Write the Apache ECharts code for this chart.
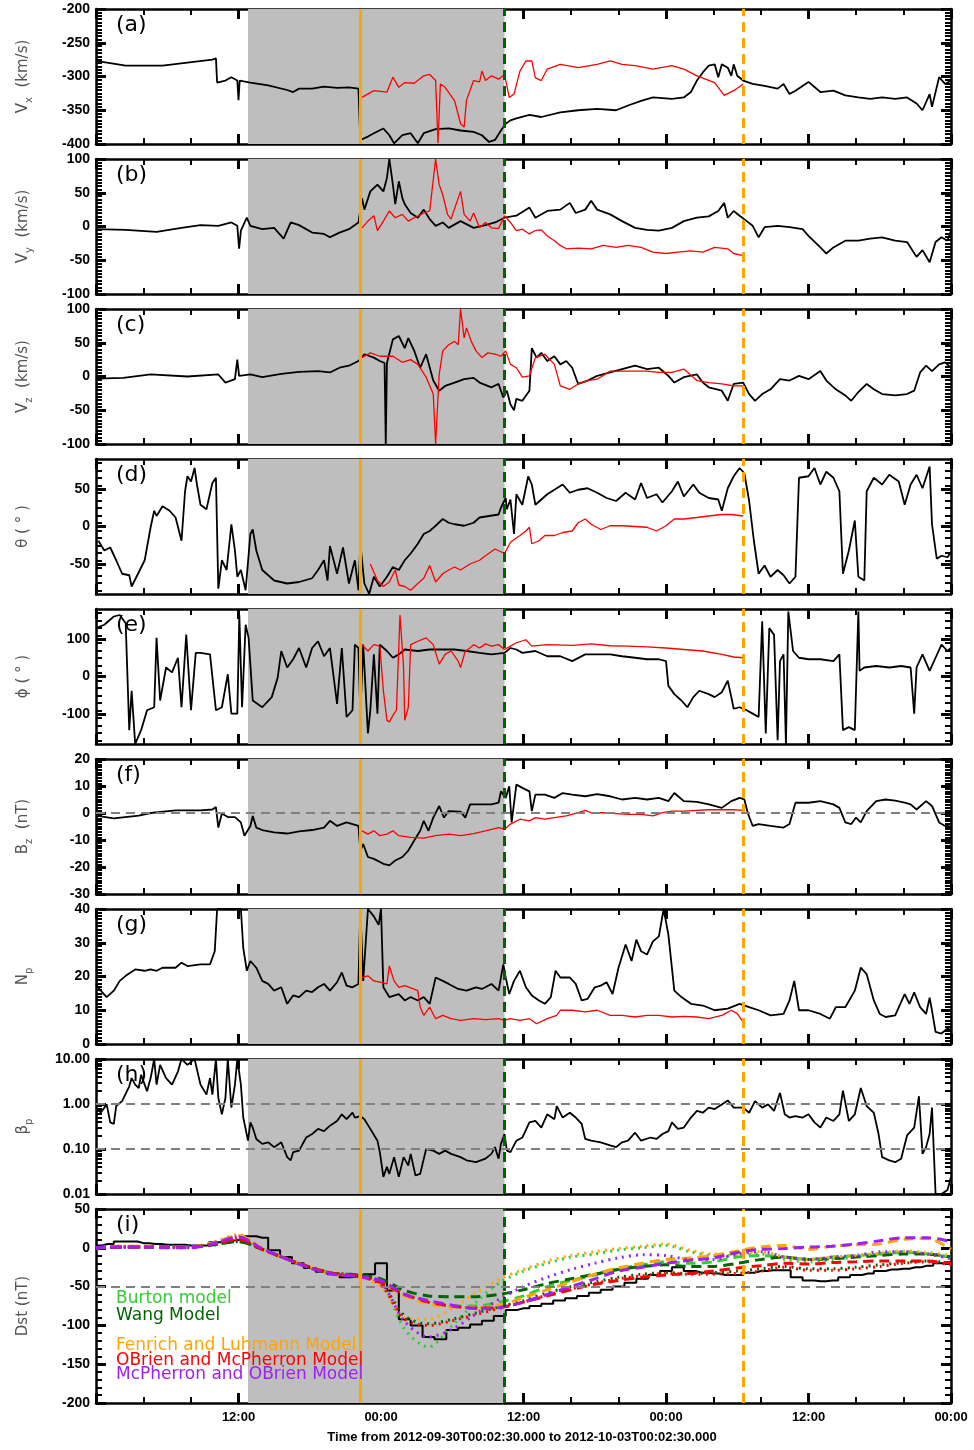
<!DOCTYPE html>
<html>
<head>
<meta charset="utf-8">
<script src="https://cdn.jsdelivr.net/npm/echarts@6.0.0/dist/echarts.min.js"></script>
<style>
html, body { margin: 0; padding: 0; background: #fff; }
#chart { width: 974px; height: 1450px; }
</style>
</head>
<body>
<div id="chart"></div>
<script>
// time is in hours from 2012-09-30 00:00
const shadeSpan = [12.8, 34.4];
const tShock = 22.26;
const tEnd = 34.4;
const tArrival = 54.5;

// (a) Vx
const vxObs = [[0,-279],[0.4,-278],[2.5,-284],[5.6,-284],[9.8,-275],[10.1,-273],[10.2,-309],[10.9,-306],[11.4,-301],[11.9,-306],[12.0,-335],[12.1,-306],[13.0,-309],[14.5,-313],[16.1,-320],[16.6,-323],[17.1,-318],[18.2,-318],[19.2,-315],[20.3,-317],[21.3,-316],[22.1,-318],[22.26,-394],[22.9,-389],[23.4,-384],[24.2,-377],[24.7,-387],[25.1,-399],[25.8,-387],[26.5,-384],[27.1,-399],[27.6,-384],[28.6,-378],[29.7,-377],[30.7,-380],[31.8,-382],[32.5,-387],[33.1,-397],[33.6,-394],[34.1,-380],[34.5,-370],[34.9,-365],[35.4,-362],[36.5,-357],[37.5,-360],[39.1,-353],[40.6,-350],[42.2,-348],[43.8,-350],[44.8,-343],[45.9,-336],[46.9,-331],[48.5,-333],[49.5,-331],[50.1,-323],[50.6,-306],[51.1,-294],[51.6,-284],[52.1,-282],[52.4,-301],[52.7,-282],[53.2,-287],[53.5,-299],[53.7,-282],[54.0,-299],[54.5,-306],[55.3,-311],[56.3,-314],[57.4,-318],[57.9,-311],[58.4,-326],[58.9,-321],[60.0,-308],[61.0,-323],[62.1,-321],[63.1,-328],[64.2,-331],[65.2,-333],[66.2,-331],[67.3,-333],[68.3,-331],[69.1,-340],[69.6,-350],[70.2,-326],[70.4,-345],[71.0,-301],[71.5,-311],[72,-306]];
const vxModel = [[22.4,-331],[23.4,-321],[24.5,-323],[25.0,-301],[25.5,-316],[26.0,-309],[26.8,-310],[27.6,-299],[28.1,-297],[28.6,-306],[28.8,-399],[29.0,-311],[29.4,-316],[30.2,-336],[30.7,-370],[31.0,-375],[31.2,-335],[31.8,-306],[32.3,-308],[32.5,-292],[32.8,-306],[33.3,-299],[33.9,-304],[34.4,-297],[34.8,-331],[35.2,-326],[35.7,-292],[36.2,-277],[36.7,-277],[37.0,-302],[37.5,-306],[38.0,-289],[39.1,-282],[40.6,-287],[42.2,-282],[43.3,-277],[44.3,-282],[45.4,-284],[46.9,-289],[48.5,-284],[49.5,-289],[50.6,-299],[52.1,-309],[52.9,-328],[53.7,-321],[54.5,-311]];

// (b) Vy
const vyObs = [[0,-4],[2.5,-5],[5.1,-8],[7.2,-2],[8.8,2],[10.3,1],[11.4,6],[11.9,1],[12.05,-33],[12.2,-6],[12.7,13],[13.0,1],[14.0,-4],[15.0,-2],[15.8,-18],[16.4,6],[17.1,2],[18.2,-9],[19.2,-11],[19.7,-16],[20.5,-9],[21.3,-4],[22.1,6],[22.4,42],[22.6,25],[23.1,52],[23.7,62],[24.2,52],[24.5,72],[24.7,100],[25.0,62],[25.2,33],[25.5,67],[25.8,42],[26.0,33],[26.5,20],[27.1,13],[27.6,25],[28.1,11],[28.6,1],[29.2,6],[29.7,-2],[30.7,8],[31.8,-2],[32.8,2],[33.6,6],[34.4,13],[35.4,16],[36.5,28],[37.0,13],[38.0,23],[39.1,25],[39.9,35],[40.4,20],[41.2,25],[41.7,38],[42.2,25],[43.3,18],[44.3,8],[45.4,-2],[46.4,-5],[47.4,-6],[48.5,-2],[49.5,8],[50.6,13],[51.6,15],[52.4,23],[52.9,35],[53.2,13],[53.7,23],[54.2,16],[54.8,8],[55.3,1],[55.8,-16],[56.3,-1],[57.4,1],[58.4,-1],[59.5,-4],[60.0,-14],[61.0,-31],[61.5,-40],[62.1,-31],[63.1,-21],[64.2,-21],[65.2,-18],[66.2,-16],[67.3,-21],[68.3,-23],[69.1,-45],[69.6,-35],[70.2,-53],[70.7,-23],[71.2,-16],[71.7,-21],[72,-6]];
const vyModel = [[22.4,-2],[22.9,8],[23.4,16],[23.7,-6],[24.2,8],[24.7,23],[25.2,13],[25.8,18],[26.3,8],[26.8,13],[27.6,20],[28.1,23],[28.6,100],[28.9,62],[29.2,47],[29.6,18],[29.9,11],[30.5,42],[30.7,52],[31.0,18],[31.5,8],[31.8,20],[32.3,-2],[32.8,6],[33.3,-2],[33.9,-3],[34.4,16],[34.9,6],[35.4,-6],[35.9,-4],[36.5,-11],[37.0,-6],[37.5,-5],[38.0,-14],[38.6,-21],[39.1,-28],[39.6,-33],[40.6,-32],[41.7,-33],[42.7,-28],[43.8,-31],[44.8,-28],[45.9,-31],[46.9,-38],[48.0,-40],[49.0,-38],[50.1,-36],[51.1,-38],[52.1,-31],[53.2,-33],[53.7,-40],[54.5,-43]];

// (c) Vz
const vzObs = [[0,-3],[2.3,-2],[4.6,3],[7.7,0],[10.3,3],[10.9,-9],[11.7,-4],[11.9,25],[12.05,1],[13.0,3],[14.0,-1],[15.6,4],[17.1,7],[18.7,8],[19.7,6],[20.5,13],[21.3,16],[22.1,23],[22.6,33],[23.4,28],[23.9,23],[24.3,20],[24.4,-100],[24.5,20],[25.0,55],[25.5,60],[26.0,42],[26.3,57],[26.8,38],[27.3,13],[27.8,33],[28.4,-6],[28.9,-21],[29.4,-14],[30.2,-9],[31.0,-4],[31.8,-2],[32.3,-9],[33.3,-16],[33.9,-11],[34.3,-31],[34.6,-21],[34.9,-41],[35.2,-50],[35.4,-33],[35.9,-36],[36.5,-21],[36.7,42],[37.1,28],[37.5,35],[38.0,23],[38.6,30],[39.1,18],[39.6,23],[40.1,13],[40.6,-11],[41.4,-6],[42.2,1],[43.3,6],[44.3,11],[45.4,16],[46.4,11],[47.4,13],[48.2,1],[48.7,-9],[49.5,-1],[50.6,3],[51.1,-9],[51.6,-16],[52.7,-21],[53.2,-36],[53.7,-11],[54.5,-9],[55.0,-26],[55.5,-36],[56.1,-26],[56.8,-19],[57.6,-4],[58.4,-6],[59.2,1],[60.0,-4],[61.0,8],[61.5,-6],[62.3,-19],[63.1,-28],[63.6,-36],[64.2,-23],[64.9,-11],[65.5,-19],[66.2,-26],[67.3,-28],[68.3,-26],[68.9,-21],[69.4,6],[69.9,16],[70.4,8],[71.0,18],[71.5,21],[72,13]];
const vzModel = [[22.4,28],[23.1,35],[23.9,30],[25.0,30],[25.8,21],[26.5,25],[27.1,18],[27.8,-1],[28.4,-26],[28.6,-100],[28.9,3],[29.2,38],[29.7,47],[30.2,52],[30.5,47],[30.7,100],[31.0,57],[31.2,72],[31.6,52],[32.0,38],[32.5,28],[33.0,35],[33.6,33],[34.1,30],[34.5,38],[34.9,18],[35.4,13],[35.9,-1],[36.5,1],[37.0,28],[37.8,33],[38.6,18],[39.1,-14],[39.9,-19],[40.6,-11],[41.4,-6],[42.2,-4],[43.3,8],[44.3,8],[45.4,8],[46.4,8],[47.4,6],[48.5,6],[49.5,11],[50.6,-6],[51.6,-9],[52.7,-11],[53.7,-14],[54.5,-14]];

// (d) theta
const thetaObs = [[0.2,-19],[0.7,-32],[1.2,-28],[1.7,-45],[2.2,-63],[2.8,-65],[3.0,-80],[3.6,-61],[4.1,-45],[4.6,-1],[4.9,21],[5.1,14],[5.6,27],[6.2,21],[6.7,12],[7.2,-19],[7.5,47],[7.7,67],[8.0,60],[8.3,78],[8.5,56],[8.8,29],[9.3,23],[9.8,58],[10.1,65],[10.3,-83],[10.6,-45],[11.0,-58],[11.4,3],[11.7,-32],[11.9,-67],[12.2,-58],[12.6,-85],[13.0,-10],[13.2,-4],[13.5,-32],[14.0,-58],[14.5,-65],[15.0,-72],[16.1,-76],[17.1,-74],[18.2,-69],[18.7,-58],[19.2,-45],[19.5,-72],[19.7,-26],[20.3,-63],[20.8,-28],[21.3,-76],[21.8,-45],[22.1,-85],[22.26,-23],[22.6,-76],[23.0,-90],[23.4,-67],[23.9,-80],[24.5,-67],[25.0,-54],[25.5,-58],[26.0,-45],[26.5,-36],[27.1,-23],[27.6,-10],[28.1,-6],[28.6,1],[29.2,10],[29.7,5],[30.2,3],[31.0,1],[31.8,5],[32.3,12],[33.1,14],[33.9,16],[34.1,25],[34.5,38],[34.6,23],[34.9,36],[35.2,-10],[35.4,43],[35.9,29],[36.4,67],[36.7,56],[37.0,29],[37.5,36],[38.0,43],[38.8,51],[39.3,56],[39.9,45],[40.6,49],[41.4,51],[42.2,45],[43.0,38],[43.8,34],[44.6,45],[45.4,36],[45.9,58],[46.4,38],[47.2,43],[47.7,32],[48.5,47],[49.0,60],[49.5,40],[50.3,56],[50.8,45],[51.6,38],[52.4,36],[52.7,21],[53.2,51],[53.7,67],[54.2,78],[54.6,71],[55.0,34],[55.4,-19],[55.8,-63],[56.3,-52],[56.8,-67],[57.4,-58],[57.9,-65],[58.4,-76],[58.9,-67],[59.2,65],[60.0,67],[60.5,78],[61.0,56],[61.5,73],[62.1,65],[62.6,47],[62.9,-63],[63.4,-32],[63.9,8],[64.2,-67],[64.7,-72],[64.9,47],[65.5,65],[66.2,56],[66.8,69],[67.6,60],[68.1,29],[68.6,56],[69.1,69],[69.6,51],[70.2,80],[70.4,3],[70.8,-43],[71.2,-39],[71.7,-41],[72,-34]];
const thetaModel = [[23.1,-50],[23.7,-72],[24.2,-80],[24.7,-74],[25.2,-58],[25.5,-78],[26.0,-80],[26.5,-85],[27.1,-76],[27.6,-69],[28.1,-52],[28.6,-74],[29.2,-63],[29.7,-58],[30.2,-54],[30.7,-58],[31.5,-50],[32.3,-45],[32.8,-39],[33.6,-30],[34.4,-36],[34.9,-21],[35.7,-12],[36.2,-6],[36.5,-1],[36.7,-23],[37.3,-19],[37.8,-12],[38.6,-12],[39.3,-8],[40.1,-6],[40.6,5],[41.2,10],[41.7,3],[42.5,-4],[43.3,1],[44.3,1],[45.4,0],[46.4,-1],[47.2,-6],[48.0,1],[48.7,10],[49.5,10],[50.6,12],[51.6,14],[52.7,16],[53.5,16],[54.5,14]];

// (e) phi
const phiObs = [[0,129],[0.7,138],[1.5,160],[2.0,164],[2.5,142],[2.8,-143],[3.0,-38],[3.3,-180],[3.8,-143],[4.3,-90],[4.9,-82],[5.1,103],[5.4,-64],[5.9,24],[6.4,11],[6.9,50],[7.2,-82],[7.6,112],[8.0,-90],[8.4,63],[8.8,63],[9.6,59],[10.1,-90],[10.6,-82],[11.1,6],[11.4,-99],[11.9,-99],[12.07,164],[12.3,-82],[12.6,138],[12.85,103],[13.2,-64],[14.0,-82],[14.8,-55],[15.3,-3],[15.6,68],[16.1,24],[16.6,46],[17.1,76],[17.7,24],[18.2,76],[18.7,94],[19.2,54],[19.7,76],[20.3,-73],[20.7,76],[21.1,-108],[21.6,-90],[21.8,85],[22.1,76],[22.26,-99],[22.5,85],[22.9,-152],[23.1,-90],[23.4,59],[23.7,-99],[23.9,85],[24.5,68],[25.0,50],[25.5,59],[26.0,72],[27.1,68],[28.1,72],[29.2,72],[30.2,72],[31.2,68],[32.3,63],[33.3,59],[34.4,63],[34.9,76],[35.4,72],[35.9,63],[37.0,68],[38.0,54],[39.1,54],[40.1,41],[41.2,59],[42.2,59],[43.3,59],[44.3,54],[45.4,50],[46.4,46],[47.4,46],[48.0,41],[48.2,-25],[48.7,-47],[49.3,-64],[49.8,-82],[50.3,-55],[50.8,-38],[51.6,-47],[52.1,-55],[52.7,-42],[53.2,-11],[53.5,-55],[53.7,-86],[54.2,-82],[54.8,-90],[55.3,-99],[55.8,-108],[56.1,147],[56.4,-152],[56.7,129],[57.1,111],[57.4,-170],[57.6,41],[57.9,59],[58.1,-180],[58.3,173],[58.7,68],[59.2,50],[60.0,46],[61.0,46],[62.1,41],[62.6,59],[62.9,-143],[63.4,-135],[63.9,-143],[64.2,173],[64.3,15],[64.7,24],[65.7,28],[66.8,24],[67.8,28],[68.6,24],[68.9,-99],[69.1,24],[69.6,59],[70.2,15],[70.7,50],[71.2,85],[71.7,68],[72,76]];
const phiModel = [[22.4,85],[22.9,68],[23.4,85],[23.9,81],[24.2,-38],[24.5,-117],[24.7,-121],[25.1,-99],[25.3,-90],[25.6,164],[25.9,24],[26.0,-117],[26.3,-82],[26.5,85],[27.1,94],[27.8,103],[28.4,85],[28.9,33],[29.4,59],[29.9,68],[30.5,41],[30.7,24],[31.1,68],[31.5,76],[31.8,85],[32.3,76],[32.8,87],[33.3,81],[33.9,85],[34.4,72],[34.9,81],[35.4,90],[36.2,98],[36.7,81],[38.0,85],[40.1,83],[41.7,87],[43.3,82],[44.8,81],[46.4,79],[48.0,76],[49.5,72],[51.1,68],[52.7,59],[53.7,52],[54.5,50]];

// (f) Bz
const bzObs = [[0,-1],[1.5,-2],[3.6,-1],[4.6,0],[6.7,1],[8.8,1],[9.8,1.3],[10.1,2.2],[10.3,-5.4],[10.6,-0.2],[11.1,-1.5],[11.7,-1.5],[12.2,-3.5],[12.5,-8.4],[13.0,-4.8],[13.2,-1.1],[13.5,-5.4],[14.0,-6.3],[15.0,-7.2],[16.1,-7.6],[17.1,-6.8],[18.2,-6.3],[19.2,-5.4],[19.7,-2.9],[20.3,-4.8],[21.1,-3.5],[21.6,-4.1],[22.1,-4.8],[22.26,-13.9],[22.5,-11.5],[22.9,-16.3],[23.4,-17],[24.2,-18.8],[24.7,-19.4],[25.2,-17.6],[25.8,-16.3],[26.3,-13.9],[26.8,-10.2],[27.3,-6.6],[27.6,-2.9],[28.0,-6.6],[28.4,-1.7],[28.9,2.6],[29.3,-1.7],[29.7,0.7],[30.7,0.5],[31.1,-1.7],[31.5,3.2],[32.3,3.2],[33.3,3.2],[33.9,3.8],[34.1,8],[34.5,5.6],[34.8,9.9],[35.0,-3.5],[35.4,10.5],[35.9,9.3],[36.5,8],[36.7,0.7],[37.0,6.8],[37.8,6.8],[38.6,5.6],[39.3,7.4],[40.1,6.8],[41.2,6.2],[42.2,7],[43.3,6.2],[44.3,5],[45.4,5.6],[46.4,5],[47.4,5.6],[48.2,4.4],[48.7,7.4],[49.5,4.4],[50.6,4.1],[51.6,3.2],[52.7,1.9],[53.5,4.4],[54.2,5.6],[54.6,5],[54.9,-0.2],[55.3,-4.8],[55.8,-4.1],[56.8,-4.8],[57.9,-5.4],[58.4,-4.1],[58.9,3.8],[60,3.8],[61.0,4.4],[62.1,3.2],[62.6,1.9],[63.1,-3.5],[63.6,-4.1],[64.0,-1.7],[64.4,-3.5],[64.9,0.7],[65.7,4.4],[66.5,5],[67.3,4.6],[68.1,3.8],[68.6,3.2],[69.1,1.3],[69.9,4.4],[70.4,2.6],[71.0,-3.5],[71.5,-4.8],[72,-4.1]];
const bzModel = [[22.4,-6.6],[22.9,-7.8],[23.4,-6.6],[23.9,-8.4],[24.5,-7.8],[25.0,-6.6],[25.5,-8.4],[26.5,-9],[27.6,-9.3],[28.6,-8.4],[29.7,-7.8],[30.7,-8.4],[31.8,-7.6],[32.8,-6.6],[33.9,-5.4],[34.4,-6],[34.9,-4.1],[35.7,-2.3],[36.5,-2.9],[37.0,-1.7],[37.8,-2.3],[38.6,-1.7],[39.6,-1.1],[40.6,0.1],[41.2,1],[41.7,0.1],[42.7,0.1],[43.8,-0.2],[44.8,-0.5],[45.9,-0.5],[46.9,-1.1],[47.7,0.1],[48.5,0.7],[49.5,0.7],[50.6,1],[51.6,1.2],[52.7,1.2],[53.7,1.2],[54.5,1]];

// (g) Np
const npObs = [[0,17.8],[0.4,15.8],[0.9,13.9],[1.5,15.8],[2.0,18.7],[2.5,20.2],[3.3,22.1],[4.1,21.7],[4.6,22.1],[5.1,21.7],[5.6,22.6],[6.7,22.6],[7.2,24.1],[7.7,23.1],[8.8,23.6],[9.6,23.6],[10.0,27.5],[10.2,40],[12.2,40],[12.4,28.5],[12.7,21.7],[13.0,24.6],[13.5,22.6],[14.0,18.7],[14.5,17.8],[15.0,15.8],[15.6,16.8],[16.1,11.9],[16.6,14.4],[17.1,13.9],[17.7,15.8],[18.2,15.4],[18.7,16.8],[19.2,17.8],[19.7,15.8],[20.3,18.3],[20.7,21.2],[21.1,17.3],[21.6,16.8],[22.1,17.8],[22.26,40],[22.5,18.7],[22.9,40],[23.4,37.8],[23.8,35.3],[24.0,40],[24.2,16.8],[24.7,13.9],[25.5,14.8],[26.0,12.9],[26.5,13.9],[27.1,12.9],[27.6,13.9],[28.1,11.9],[28.6,19.7],[29.2,18.7],[29.7,17.8],[30.5,16.3],[31.2,15.8],[32.0,16.8],[32.5,16.3],[33.3,17.8],[33.9,15.8],[34.3,23.6],[34.5,19.7],[34.8,14.8],[35.2,18.7],[35.7,21.7],[36.2,16.8],[36.7,14.4],[37.3,12.9],[37.8,11.9],[38.3,13.9],[38.7,21.7],[39.1,19.7],[39.9,19.7],[40.4,17.8],[40.9,12.9],[41.4,13.4],[42.0,16.8],[42.5,17.3],[43.0,18.3],[43.5,14.8],[44.0,22.6],[44.6,29.5],[45.1,24.6],[45.5,30.9],[45.9,27.5],[46.4,26.5],[46.9,30.4],[47.4,31.9],[47.8,40],[48.2,32.4],[48.7,15.8],[49.3,13.9],[50.1,11.9],[51.1,11.4],[52.1,10],[53.2,10.5],[54.2,11.9],[55.0,10.9],[55.8,10],[56.8,8.5],[57.9,8.9],[58.4,12.9],[58.8,18.7],[59.2,10],[60,10],[61.0,8.9],[61.8,7.5],[62.3,10.9],[63.1,10.9],[63.9,15.8],[64.4,22.6],[64.9,20.7],[65.5,12.9],[66.0,8.9],[66.5,8],[67.3,8.5],[68.1,14.8],[68.5,11.9],[68.9,15.3],[69.4,10.9],[69.9,8.9],[70.2,13.7],[70.4,9.9],[70.7,3.6],[71.2,3.1],[71.7,4.6],[72,4.1]];
const npModel = [[22.4,19.7],[22.9,20.2],[23.4,18.7],[23.9,18.3],[24.5,17.8],[24.7,23.1],[25.1,18.7],[25.5,16.8],[26.0,17.3],[26.5,16.6],[27.1,15.8],[27.3,10.9],[27.6,8.5],[28.1,10.9],[28.6,7.5],[29.2,8.5],[29.9,7.5],[30.7,7],[31.8,7.5],[32.8,7.2],[33.9,7.5],[34.4,7],[34.9,7.5],[35.7,7],[36.5,7.5],[37.1,6],[38.0,7.5],[38.8,8.5],[39.1,10],[40.1,10],[41.2,9.5],[42.2,10],[43.3,8.5],[44.3,8.5],[45.4,8],[46.4,8.5],[47.4,8.5],[48.5,8],[49.5,8.2],[50.6,8],[51.6,7.5],[52.7,8.5],[53.5,10],[54.0,9],[54.5,6.5]];

// (h) plasma beta
const betaObs = [[0,0.83],[0.4,0.64],[0.9,0.98],[1.2,0.39],[1.5,0.36],[1.7,0.9],[2.2,1.16],[2.8,2.47],[3.0,3.77],[3.3,2.69],[3.6,2.27],[3.8,4.46],[4.1,2.69],[4.3,1.92],[4.6,3.77],[4.9,10],[5.1,2.69],[5.4,7.4],[5.9,3.77],[6.4,2.69],[6.9,5.27],[7.2,10],[7.7,7.4],[8.3,10],[8.8,2.69],[9.3,1.62],[9.6,3.77],[9.8,1.62],[10.1,10],[10.3,1.37],[10.6,0.59],[10.9,1.37],[11.1,10],[11.4,0.83],[11.7,2.69],[11.9,10],[12.2,2.69],[12.4,0.5],[12.8,0.153],[13.0,0.39],[13.2,0.3],[13.5,0.167],[14.0,0.13],[14.5,0.141],[15.0,0.11],[15.6,0.141],[16.1,0.066],[16.4,0.056],[16.6,0.085],[17.1,0.092],[17.7,0.18],[18.2,0.215],[18.7,0.28],[19.2,0.25],[19.7,0.33],[20.3,0.42],[20.7,0.59],[21.1,0.46],[21.6,0.64],[21.8,0.5],[22.26,0.54],[22.6,0.46],[23.1,0.28],[23.7,0.153],[23.9,0.085],[24.2,0.024],[24.5,0.04],[24.7,0.028],[25.1,0.066],[25.5,0.024],[25.9,0.066],[26.3,0.043],[26.5,0.078],[26.9,0.026],[27.3,0.028],[27.8,0.1],[28.4,0.092],[28.9,0.078],[29.4,0.092],[29.9,0.078],[30.7,0.066],[31.2,0.056],[32.0,0.051],[32.8,0.061],[33.3,0.078],[33.6,0.11],[33.9,0.061],[34.1,0.13],[34.4,0.215],[34.6,0.092],[34.9,0.085],[35.4,0.153],[35.9,0.18],[36.5,0.39],[37.0,0.42],[37.5,0.3],[38.0,0.59],[38.6,0.46],[38.8,0.9],[39.3,0.5],[39.9,0.64],[40.4,0.5],[40.9,0.36],[41.2,0.167],[41.7,0.153],[42.5,0.141],[43.3,0.12],[43.8,0.11],[44.3,0.141],[44.8,0.153],[45.4,0.23],[45.9,0.153],[46.7,0.18],[47.2,0.167],[47.7,0.215],[48.2,0.25],[48.5,0.39],[49.0,0.28],[49.5,0.3],[50.1,0.5],[50.6,0.7],[51.1,0.64],[51.6,0.83],[52.1,0.77],[52.7,0.98],[53.2,1.2],[53.7,0.83],[54.5,0.83],[55.0,0.64],[55.5,1.16],[56.1,0.83],[56.6,0.98],[57.1,0.7],[57.6,1.77],[58.0,0.59],[58.4,0.5],[58.9,0.54],[59.5,0.5],[60,0.59],[60.5,0.39],[61.0,0.3],[61.5,0.5],[62.1,0.42],[62.6,0.59],[62.9,1.99],[63.4,0.42],[63.9,0.59],[64.4,2.27],[64.9,0.9],[65.5,0.64],[65.9,0.215],[66.2,0.066],[66.8,0.056],[67.3,0.051],[67.8,0.061],[68.3,0.2],[68.9,0.3],[69.3,1.49],[69.6,0.078],[69.9,0.11],[70.2,0.215],[70.4,0.83],[70.7,0.01],[71.2,0.01],[71.7,0.0123],[72,0.024]];

// (i) Dst, hourly observed and model runs every 2 h
const dstHours = [0,1,2,3,4,5,6,7,8,9,10,11,12,13,14,15,16,17,18,19,20,21,22,23,24,25,26,27,28,29,30,31,32,33,34,35,36,37,38,39,40,41,42,43,44,45,46,47,48,49,50,51,52,53,54,55,56,57,58,59,60,61,62,63,64,65,66,67,68,69,70,71,72];
const dstObs = [3,5,8,8,6,5,4,4,3,3,7,9,10,15,13,-3,-12,-20,-26,-31,-34,-38,-37,-34,-20,-55,-92,-100,-115,-118,-106,-103,-99,-94,-88,-80,-78,-75,-72,-68,-65,-62,-58,-54,-50,-45,-40,-35,-30,-25,-30,-32,-33,-35,-35,-32,-30,-29,-29,-38,-42,-43,-42,-38,-35,-33,-30,-28,-27,-25,-23,-20,-18];
const modelHours = [0,2,4,6,8,10,12,14,16,18,20,22,24,26,28,30,32,34,36,38,40,42,44,46,48,50,52,54,56,58,60,62,64,66,68,70,72];
const burtonDash = [0,1,1,1,1,5,10,-2,-14,-25,-33,-36,-42,-60,-70,-75,-75,-70,-62,-50,-42,-35,-27,-22,-18,-20,-18,-12,-10,-12,-15,-12,-10,-8,-6,-8,-12];
const burtonDot = [0,1,1,1,1,5,10,-2,-14,-25,-33,-36,-45,-105,-128,-100,-70,-45,-30,-20,-12,-8,-3,0,3,-5,-10,-10,-8,-15,-18,-15,-12,-8,-5,-8,-12];
const wangDash = [0,1,1,1,1,4,8,-2,-14,-25,-33,-35,-40,-55,-62,-63,-63,-60,-54,-46,-40,-34,-28,-24,-22,-24,-24,-20,-15,-12,-15,-14,-12,-10,-8,-8,-12];
const wangDot = [0,1,1,1,1,4,8,-2,-14,-25,-33,-35,-46,-88,-98,-92,-84,-76,-68,-58,-50,-44,-38,-34,-32,-33,-32,-30,-27,-24,-27,-27,-25,-22,-19,-17,-20];
const fenrichDash = [0,2,2,1,1,7,16,-1,-14,-25,-33,-37,-45,-62,-72,-76,-77,-74,-64,-54,-44,-34,-26,-20,-15,-13,-10,-4,1,3,-2,2,4,5,11,12,-2];
const fenrichDot = [0,2,2,1,1,8,17,-1,-14,-25,-34,-37,-50,-90,-92,-78,-58,-40,-28,-17,-10,-5,-1,2,5,-3,-8,-8,-5,-12,-15,-12,-10,-7,-4,-6,-10];
const obrienDash = [0,1,1,1,1,5,11,-2,-14,-25,-33,-36,-45,-60,-70,-75,-78,-77,-70,-62,-54,-47,-42,-38,-35,-33,-30,-26,-23,-20,-21,-19,-18,-17,-17,-17,-20];
const obrienDot = [0,1,1,1,1,5,11,-2,-14,-25,-33,-36,-48,-92,-100,-94,-86,-78,-70,-61,-53,-46,-40,-36,-33,-34,-34,-33,-30,-25,-29,-29,-27,-24,-20,-18,-22];
const mcphDash = [0,1,1,0,0,6,14,-1,-14,-26,-34,-37,-42,-60,-68,-74,-78,-77,-70,-60,-50,-40,-30,-25,-20,-16,-13,-6,-2,-1,1,2,5,9,13,13,8];
const mcphDot = [0,1,1,0,0,6,14,-1,-14,-26,-34,-37,-45,-95,-115,-105,-85,-66,-50,-38,-28,-20,-13,-9,-10,-15,-15,-8,-5,-12,-15,-12,-10,-5,-5,-8,-14];

const modelNames = ['Burton model', 'Wang Model', 'Fenrich and Luhmann Model', 'OBrien and McPherron Model', 'McPherron and OBrien Model'];
const modelColors = ['#33cc33', '#006400', '#ffa500', '#ff0000', '#a020f0'];
const dstRuns = [
    [burtonDash, burtonDot],
    [wangDash, wangDot],
    [fenrichDash, fenrichDot],
    [obrienDash, obrienDot],
    [mcphDash, mcphDot]
];

const panelLabels = ['(a)', '(b)', '(c)', '(d)', '(e)', '(f)', '(g)', '(h)', '(i)'];

// layout
const gridLeft = 96;
const gridWidth = 855;
const panelTops = [9, 159, 309, 459, 609, 759, 909, 1059, 1209];
const panelHeights = [135, 135, 135, 135, 135, 135, 135, 135, 194];

const tickFont = 'Liberation Sans';
const nameRich = {
    b: { fontSize: 15, color: '#555', fontFamily: 'DejaVu Sans', lineHeight: 22, verticalAlign: 'middle' },
    s: { fontSize: 10, color: '#555', fontFamily: 'DejaVu Sans', lineHeight: 22, verticalAlign: 'bottom' }
};

const panels = [
    { name: '{b|V}{s|x}{b|  (km/s)}', min: -400, max: -200, interval: 50, minor: 10, obs: vxObs, model: vxModel },
    { name: '{b|V}{s|y}{b|  (km/s)}', min: -100, max: 100, interval: 50, minor: 10, obs: vyObs, model: vyModel },
    { name: '{b|V}{s|z}{b|  (km/s)}', min: -100, max: 100, interval: 50, minor: 10, obs: vzObs, model: vzModel },
    { name: '{b|θ ( ° )}', min: -90, max: 90, interval: 10, ticks: [-50, 0, 50], minor: 2, obs: thetaObs, model: thetaModel },
    { name: '{b|ϕ ( ° )}', min: -180, max: 180, interval: 20, ticks: [-100, 0, 100], minor: 2, obs: phiObs, model: phiModel },
    { name: '{b|B}{s|z}{b|  (nT)}', min: -30, max: 20, interval: 10, minor: 10, obs: bzObs, model: bzModel, hlines: [0] },
    { name: '{b|N}{s|p}', min: 0, max: 40, interval: 10, minor: 10, obs: npObs, model: npModel },
    { name: '{b|β}{s|p}', log: true, min: 0.01, max: 10, minor: 9, obs: betaObs, hlines: [1, 0.1] },
    { name: '{b|Dst (nT)}', min: -200, max: 50, interval: 50, minor: 5, hlines: [-50] }
];

function makeY(p, i, side) {
    const ax = {
        gridIndex: i,
        position: side,
        type: p.log ? 'log' : 'value',
        min: p.min,
        max: p.max,
        axisLine: { show: true, onZero: false, lineStyle: { color: '#000', width: 2.5 } },
        axisTick: { show: true, inside: true, length: 10, lineStyle: { color: '#000', width: 3 } },
        minorTick: { show: true, splitNumber: p.minor, length: 6, lineStyle: { color: '#000', width: 2 } },
        splitLine: { show: false },
        axisLabel: { show: side === 'left', color: '#000', fontFamily: tickFont, fontWeight: 'bold', fontSize: 14, margin: 6 }
    };
    if (p.log) {
        ax.logBase = 10;
        ax.axisLabel.formatter = v => Number(v).toFixed(2);
    } else {
        ax.interval = p.interval;
    }
    if (p.ticks) {
        ax.axisTick.customValues = p.ticks;
        ax.axisLabel.customValues = p.ticks;
    }
    if (side === 'left') {
        ax.name = p.name;
        ax.nameLocation = 'middle';
        ax.nameGap = 62;
        ax.nameRotate = 90;
        ax.nameTextStyle = { rich: nameRich };
    }
    return ax;
}

function makeX(i, side) {
    const last = i === panels.length - 1 && side === 'bottom';
    return {
        gridIndex: i,
        position: side,
        type: 'value',
        min: 0,
        max: 72,
        interval: 12,
        axisLine: { show: true, onZero: false, lineStyle: { color: '#000', width: 2.5 } },
        axisTick: { show: true, inside: true, length: 10, lineStyle: { color: '#000', width: 3 } },
        minorTick: { show: true, splitNumber: 3, length: 6, lineStyle: { color: '#000', width: 2 } },
        splitLine: { show: false },
        axisLabel: {
            show: last,
            color: '#000', fontFamily: tickFont, fontWeight: 'bold', fontSize: 13, margin: 8,
            formatter: v => v === 0 ? '' : (v % 24 === 0 ? '00:00' : '12:00')
        }
    };
}

const grids = [], xAxes = [], yAxes = [], series = [], graphics = [];

panels.forEach((p, i) => {
    grids.push({ left: gridLeft, width: gridWidth, top: panelTops[i], height: panelHeights[i] });
    xAxes.push(makeX(i, 'bottom'), makeX(i, 'top'));
    yAxes.push(makeY(p, i, 'left'), makeY(p, i, 'right'));

    const lines = [
        { xAxis: tShock, lineStyle: { color: '#ffa500', width: 3, type: 'solid' } },
        { xAxis: tEnd, lineStyle: { color: '#006400', width: 3, type: [10, 6] } },
        { xAxis: tArrival, lineStyle: { color: '#ffa500', width: 3, type: [10, 6] } }
    ];
    (p.hlines || []).forEach(v => lines.push({ yAxis: v, lineStyle: { color: '#808080', width: 2, type: [9, 6] } }));

    // shading + event markers ride on a bare helper series
    series.push({
        type: 'line', xAxisIndex: 2 * i, yAxisIndex: 2 * i, data: [], z: 1,
        markArea: { itemStyle: { color: '#bebebe' }, data: [[{ xAxis: shadeSpan[0] }, { xAxis: shadeSpan[1] }]] },
        markLine: { symbol: ['none', 'none'], label: { show: false }, data: lines }
    });

    if (p.obs) {
        series.push({
            type: 'line', xAxisIndex: 2 * i, yAxisIndex: 2 * i, data: p.obs, showSymbol: false, z: 3,
            lineStyle: { color: '#000', width: 1.8 }
        });
    }
    if (p.model) {
        series.push({
            type: 'line', xAxisIndex: 2 * i, yAxisIndex: 2 * i, data: p.model, showSymbol: false, z: 4,
            lineStyle: { color: '#ff0000', width: 1.3 }
        });
    }

    graphics.push({
        type: 'text', left: gridLeft + 20, top: panelTops[i] + 5, z: 10,
        style: { text: panelLabels[i], fontSize: 22, fontFamily: 'DejaVu Sans', fill: '#000' }
    });
});

// Dst panel
const di = panels.length - 1;
series.push({
    type: 'line', xAxisIndex: 2 * di, yAxisIndex: 2 * di, step: 'middle', showSymbol: false, z: 3,
    data: dstHours.map((h, k) => [h, dstObs[k]]),
    lineStyle: { color: '#000', width: 2 }
});
dstRuns.forEach((pair, m) => {
    pair.forEach((vals, k) => {
        series.push({
            type: 'line', xAxisIndex: 2 * di, yAxisIndex: 2 * di, showSymbol: false, smooth: 0.3, z: 4,
            data: modelHours.map((h, j) => [h, vals[j]]),
            lineStyle: { color: modelColors[m], width: 3, type: k === 0 ? [10, 6] : [2, 5] }
        });
    });
});

const legendTops = [1290, 1307, 1337, 1352, 1366];
modelNames.forEach((n, m) => {
    graphics.push({
        type: 'text', left: 116, top: legendTops[m], z: 10,
        style: { text: n, fontSize: 17, fontFamily: 'DejaVu Sans', fill: modelColors[m] }
    });
});

graphics.push({
    type: 'text', x: 522, y: 1431, z: 10,
    style: { text: 'Time from 2012-09-30T00:02:30.000 to 2012-10-03T00:02:30.000', fontSize: 13, fontWeight: 'bold', fontFamily: tickFont, fill: '#000', textAlign: 'center' }
});

const chart = echarts.init(document.getElementById('chart'));
chart.setOption({
    animation: false,
    backgroundColor: '#fff',
    grid: grids,
    xAxis: xAxes,
    yAxis: yAxes,
    series: series,
    graphic: graphics
});
</script>
</body>
</html>
